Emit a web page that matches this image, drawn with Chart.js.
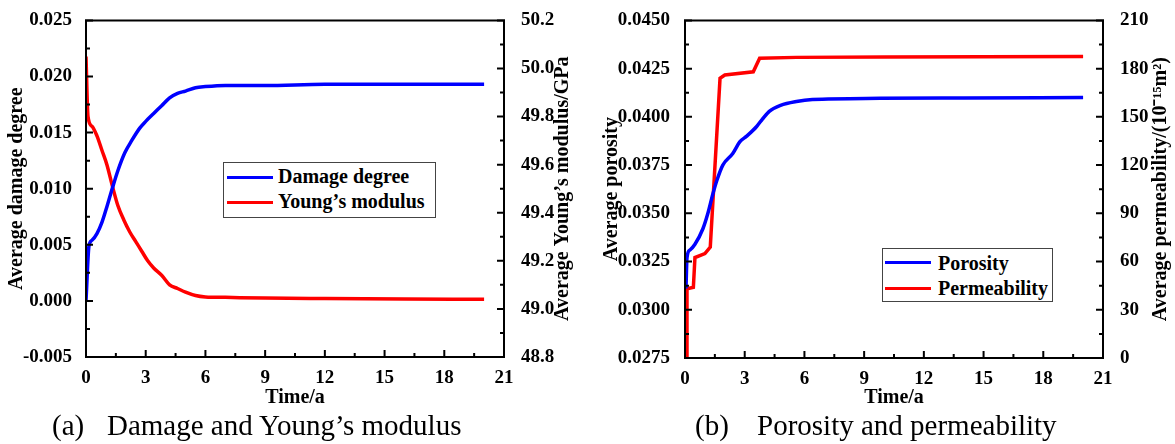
<!DOCTYPE html>
<html>
<head>
<meta charset="utf-8">
<script src="https://cdn.jsdelivr.net/npm/chart.js@4.4.1/dist/chart.umd.min.js"></script>
<style>
  body { margin: 0; background: #fff; width: 1175px; height: 444px; position: relative; overflow: hidden;
         font-family: 'Liberation Serif', 'Times New Roman', serif; color: #000; }
  canvas { position: absolute; top: 0; }
  .legend { position: absolute; border: 1px solid #444; box-sizing: border-box; background: #fff; }
  .legend .sw { position: absolute; width: 46px; height: 3px; }
  .legend .tx { position: absolute; font-weight: bold; font-size: 20px; line-height: 20px; white-space: nowrap; }
  .cap { position: absolute; top: 411px; font-size: 29px; line-height: 29px; white-space: nowrap; }
</style>
</head>
<body>
<canvas id="chartA" width="585" height="410" style="left:0"></canvas>
<canvas id="chartB" width="590" height="410" style="left:585px"></canvas>

<div class="legend" style="left:223px; top:162px; width:213px; height:56px">
  <div class="sw" style="left:3px; top:13px; background:#0000ff"></div>
  <div class="tx" style="left:54px; top:3px">Damage degree</div>
  <div class="sw" style="left:3px; top:38px; background:#ff0000"></div>
  <div class="tx" style="left:54px; top:28px">Young’s modulus</div>
</div>
<div class="legend" style="left:882px; top:248px; width:171px; height:54px">
  <div class="sw" style="left:2px; top:12px; background:#0000ff"></div>
  <div class="tx" style="left:55px; top:4px">Porosity</div>
  <div class="sw" style="left:2px; top:38px; background:#ff0000"></div>
  <div class="tx" style="left:55px; top:29px">Permeability</div>
</div>

<div class="cap" style="left:52px">(a)</div>
<div class="cap" style="left:107px">Damage and Young’s modulus</div>
<div class="cap" style="left:695px">(b)</div>
<div class="cap" style="left:757px">Porosity and permeability</div>

<script>
// (a) damage degree and Young's modulus vs time
const damageTime = [0, 0.15, 0.3, 0.55, 0.8, 1.05, 1.3, 1.6, 1.95, 2.3, 2.7, 3.0, 3.4, 3.8, 4.2, 4.6, 5.0, 5.5, 6.0, 7.0, 9.0, 12, 16, 20];
const damageDegree = [0, 0.0049, 0.0054, 0.0060, 0.0070, 0.0084, 0.0099, 0.0116, 0.0132, 0.0143, 0.0154, 0.0160, 0.0167, 0.0174, 0.0181, 0.0185, 0.0187, 0.0190, 0.0191, 0.0192, 0.0192, 0.0193, 0.0193, 0.0193];
const youngTime = [0, 0.1, 0.3, 0.55, 0.8, 1.05, 1.36, 1.6, 1.9, 2.2, 2.5, 2.8, 3.1, 3.4, 3.8, 4.2, 4.6, 5.0, 5.5, 6.0, 7.0, 9.0, 12, 16, 20];
const youngModulus = [50.05, 49.80, 49.76, 49.72, 49.66, 49.60, 49.50, 49.43, 49.37, 49.32, 49.28, 49.24, 49.20, 49.17, 49.14, 49.10, 49.085, 49.07, 49.056, 49.05, 49.048, 49.045, 49.043, 49.041, 49.04];

// (b) porosity and permeability vs time
const porosityTime = [0.05, 0.1, 0.25, 0.5, 0.9, 1.15, 1.4, 1.6, 1.9, 2.4, 2.75, 3.1, 3.6, 3.9, 4.25, 4.8, 5.6, 6.4, 9.8, 14, 20];
const porosity = [0.0311, 0.0327, 0.0331, 0.0334, 0.0342, 0.0350, 0.0360, 0.0367, 0.0375, 0.0381, 0.0387, 0.0390, 0.0395, 0.0399, 0.0403, 0.0406, 0.0408, 0.0409, 0.04096, 0.04098, 0.0410];
const permTime = [0.06, 0.1, 0.42, 0.5, 1.0, 1.27, 1.76, 2.0, 3.43, 3.75, 5.6, 10, 20];
const permeability = [0, 43, 44, 62.5, 65, 69, 174, 176, 178, 186.5, 187, 187.3, 187.5];

// major tick values (minor ticks sit halfway between)
const timeTicks = [0, 3, 6, 9, 12, 15, 18, 21];
const damageTicks = [-0.005, 0, 0.005, 0.01, 0.015, 0.02, 0.025];
const youngTicks = [48.8, 49.0, 49.2, 49.4, 49.6, 49.8, 50.0, 50.2];
const porosityTicks = [0.0275, 0.03, 0.0325, 0.035, 0.0375, 0.04, 0.0425, 0.045];
const permTicks = [0, 30, 60, 90, 120, 150, 180, 210];

Chart.defaults.font = { family: "'Liberation Serif', 'Times New Roman', serif", size: 19, weight: 'bold', lineHeight: 1.2 };
Chart.defaults.color = '#000';

const xy = (ts, vs) => ts.map((t, i) => ({ x: t, y: vs[i] }));

// frame box, inward major/minor ticks and the right axis title (read bottom to top)
const frameTicks = {
  id: 'frameTicks',
  afterDraw(chart, args, opts) {
    const { ctx, chartArea: a } = chart;
    ctx.save();
    ctx.strokeStyle = '#000';
    ctx.lineWidth = 2;
    ctx.lineCap = 'square';
    ctx.beginPath();
    ctx.rect(a.left, a.top, a.right - a.left, a.bottom - a.top);
    ctx.stroke();
    ctx.beginPath();
    ['x', 'y', 'y1'].forEach(id => {
      const s = chart.scales[id];
      s.ticks.forEach((t, i) => {
        const len = i % 2 ? 3 : 6;
        const p = s.getPixelForValue(t.value);
        if (id === 'x') { ctx.moveTo(p, a.bottom); ctx.lineTo(p, a.bottom - len); }
        else if (id === 'y') { ctx.moveTo(a.left, p); ctx.lineTo(a.left + len, p); }
        else { ctx.moveTo(a.right, p); ctx.lineTo(a.right - len, p); }
      });
    });
    ctx.stroke();

    ctx.translate(chart.width - opts.offset, (a.top + a.bottom) / 2);
    ctx.rotate(-Math.PI / 2);
    ctx.font = "bold 20px 'Liberation Serif', 'Times New Roman', serif";
    ctx.fillStyle = '#000';
    ctx.textAlign = 'center';
    ctx.textBaseline = 'middle';
    ctx.fillText(opts.text, 0, 0);
    ctx.restore();
  }
};

// majors plus halfway minors; minors carry no label
function withMinors(values) {
  return scale => {
    const t = [];
    values.forEach((v, i) => {
      t.push({ value: v });
      if (i < values.length - 1) t.push({ value: (v + values[i + 1]) / 2 });
    });
    scale.ticks = t;
  };
}

function timeAxis(height) {
  return {
    type: 'linear',
    min: 0, max: 21,
    afterBuildTicks: withMinors(timeTicks),
    afterFit: s => { s.height = height; },
    grid: { display: false }, border: { display: false },
    ticks: { padding: 2, autoSkip: false, maxRotation: 0, callback: (v, i) => (i % 2 ? '' : String(v)) },
    title: { display: true, text: 'Time/a', font: { size: 20, weight: 'bold' }, padding: { top: 0, bottom: 0 } }
  };
}

function valueAxis(pos, values, digits, width, pad, title, titlePad) {
  return {
    type: 'linear',
    position: pos,
    min: values[0], max: values[values.length - 1],
    afterBuildTicks: withMinors(values),
    afterFit: s => { s.width = width; },
    grid: { display: false }, border: { display: false },
    ticks: { padding: pad, autoSkip: false, callback: (v, i) => (i % 2 ? '' : v.toFixed(digits)) },
    title: title
      ? { display: true, text: title, font: { size: 20, weight: 'bold' }, padding: { top: titlePad, bottom: 0 } }
      : { display: false }
  };
}

new Chart(document.getElementById('chartA'), {
  type: 'line',
  data: {
    datasets: [{
      label: 'Damage degree',
      data: xy(damageTime, damageDegree),
      yAxisID: 'y',
      borderColor: '#0000ff',
      cubicInterpolationMode: 'monotone'
    }, {
      label: 'Young’s modulus',
      data: xy(youngTime, youngModulus),
      yAxisID: 'y1',
      borderColor: '#ff0000',
      cubicInterpolationMode: 'monotone'
    }]
  },
  options: {
    responsive: false,
    animation: false,
    layout: { padding: { top: 19 } },
    elements: { point: { radius: 0 }, line: { borderWidth: 3.5 } },
    plugins: {
      legend: { display: false },
      tooltip: { enabled: false },
      frameTicks: { text: 'Average Young’s modulus/GPa', offset: 22 }
    },
    scales: {
      x: timeAxis(53),
      y: valueAxis('left', damageTicks, 3, 86, 6, 'Average damage degree', 5),
      y1: valueAxis('right', youngTicks, 1, 81, 9, null, 0)
    }
  },
  plugins: [frameTicks]
});

new Chart(document.getElementById('chartB'), {
  type: 'line',
  data: {
    datasets: [{
      label: 'Porosity',
      data: xy(porosityTime, porosity),
      yAxisID: 'y',
      borderColor: '#0000ff',
      cubicInterpolationMode: 'monotone'
    }, {
      label: 'Permeability',
      data: xy(permTime, permeability),
      yAxisID: 'y1',
      borderColor: '#ff0000',
      tension: 0
    }]
  },
  options: {
    responsive: false,
    animation: false,
    layout: { padding: { top: 19 } },
    elements: { point: { radius: 0 }, line: { borderWidth: 3.5 } },
    plugins: {
      legend: { display: false },
      tooltip: { enabled: false },
      frameTicks: { text: 'Average permeability/(10⁻¹⁵m²)', offset: 14 }
    },
    scales: {
      x: timeAxis(52),
      y: valueAxis('left', porosityTicks, 4, 100, 7, 'Average porosity', 15),
      y1: valueAxis('right', permTicks, 0, 72, 9, null, 0)
    }
  },
  plugins: [frameTicks]
});
</script>
</body>
</html>
